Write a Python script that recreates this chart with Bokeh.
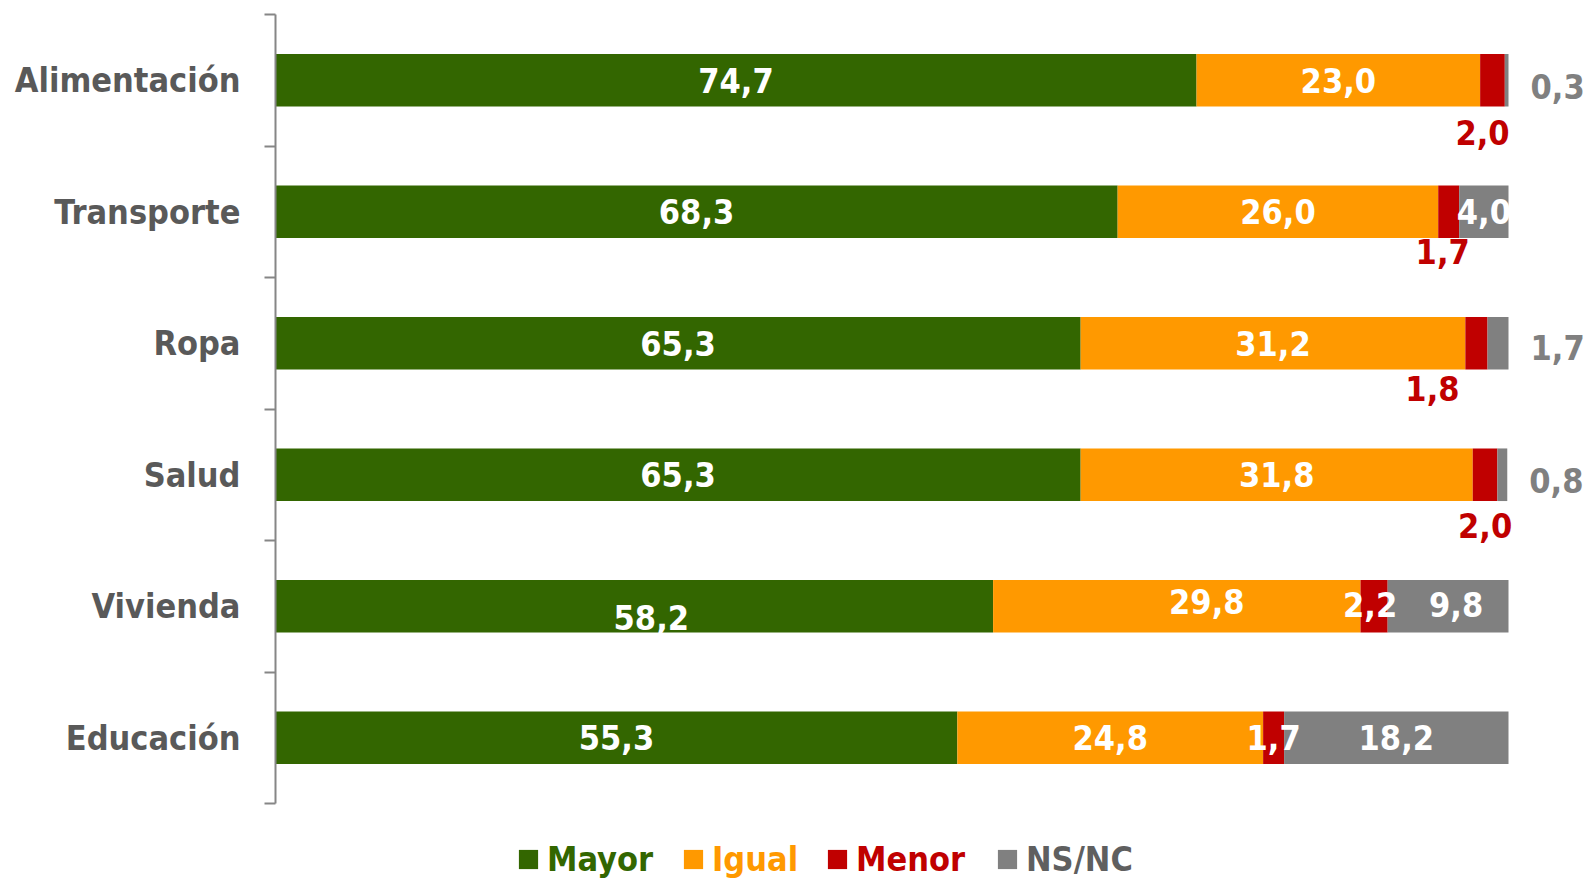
import numpy as np
from bokeh.plotting import figure
from bokeh.models import ColumnDataSource, Range1d, FixedTicker, Legend, LegendItem
from bokeh.core.properties import value
from bokeh.embed import file_html
from bokeh.resources import INLINE

# ---------------- data ----------------
categories = ["Alimentación", "Transporte", "Ropa", "Salud", "Vivienda", "Educación"]
series = ["Mayor", "Igual", "Menor", "NS/NC"]
mayor = [74.7, 68.3, 65.3, 65.3, 58.2, 55.3]
igual = [23.0, 26.0, 31.2, 31.8, 29.8, 24.8]
menor = [2.0, 1.7, 1.8, 2.0, 2.2, 1.7]
nsnc = [0.3, 4.0, 1.7, 0.8, 9.8, 18.2]

# ---------------- style ----------------
colors = ["#336600", "#FF9900", "#C00000", "#808080"]
legend_text_colors = ["#336600", "#FF9900", "#C00000", "#5F5F5F"]
FONT = "DejaVu Sans Condensed"
FS = "34px"

W, H = 1588, 879
LEFT_BORDER = 275
TOP_BORDER = 14
BAND_PX = 131.5
PX_PER_100 = 1233.0

# hand placement tweaks of individual data labels, in pixels: (series, category) -> (dx, dy)
label_nudges = {
    (0, 4): (17, 11), (1, 4): (30, -5), (2, 4): (-4, -2), (3, 4): (8, -2),
    (2, 0): (-10, 3), (2, 1): (-6, -10), (2, 2): (-44, -4), (2, 3): (0, 1),
    (3, 2): (0, -2),
}

n = len(categories)
X_END = 100.0 * (W - LEFT_BORDER) / PX_PER_100
Y_END = n + (H - TOP_BORDER - n * BAND_PX) / BAND_PX

pos = np.arange(n) + 0.5
vals = np.array([mayor, igual, menor, nsnc])
rights = vals.cumsum(axis=0)
lefts = rights - vals
totals = rights[-1]


def fmt(v):
    return f"{v:.1f}".replace(".", ",")


p = figure(width=W, height=H, output_backend="svg", toolbar_location=None,
           x_range=Range1d(0, X_END), y_range=Range1d(Y_END, 0),
           x_axis_location=None,
           min_border_left=LEFT_BORDER, min_border_right=0,
           min_border_top=TOP_BORDER, min_border_bottom=0)
p.outline_line_color = None
p.grid.grid_line_color = None
p.background_fill_color = "white"
p.border_fill_color = "white"

bar_renderers = []
for k in range(len(series)):
    src = ColumnDataSource(dict(y=pos, left=lefts[k], right=rights[k]))
    r = p.hbar(y="y", left="left", right="right", height=0.4, source=src,
               fill_color=colors[k], line_color=None)
    bar_renderers.append(r)

# ---------------- labels ----------------
def add_text(k, mask, xs, ys, color, align="center", x_off=0, y_off=0):
    idx = np.nonzero(mask)[0]
    if len(idx) == 0:
        return
    dx = [x_off + label_nudges.get((k, int(i)), (0, 0))[0] for i in idx]
    dy = [y_off + label_nudges.get((k, int(i)), (0, 0))[1] for i in idx]
    src = ColumnDataSource(dict(x=list(xs[idx]), y=list(ys[idx]),
                                t=[fmt(v) for v in vals[k][idx]], dx=dx, dy=dy))
    p.text(x="x", y="y", text="t", source=src, text_color=color,
           text_font=value(FONT), text_font_size=FS, text_font_style="bold",
           text_align=align, text_baseline="middle", x_offset="dx", y_offset="dy")

centers = (lefts + rights) / 2.0
nsnc_arr = np.array(nsnc)
all_rows = np.ones(n, dtype=bool)

# Mayor and Igual: inside, white
for k in (0, 1):
    add_text(k, all_rows, centers[k], pos, "white")

# Menor: inside when there is a wide NS/NC segment, otherwise below the bar in red
inside_m = nsnc_arr >= 5
add_text(2, inside_m, centers[2], pos, "white")
add_text(2, ~inside_m, centers[2], pos + 0.2, colors[2], y_off=23)

# NS/NC: inside when wide enough, otherwise to the right of the bar in grey
inside_n = nsnc_arr >= 3
add_text(3, inside_n, centers[3], pos, "white")
add_text(3, ~inside_n, totals, pos, colors[3], align="left", x_off=22, y_off=6)

# ---------------- axis ----------------
ax = p.yaxis[0]
ax.bounds = (0, n)
ax.ticker = FixedTicker(ticks=list(pos), minor_ticks=list(range(n + 1)))
ax.major_label_overrides = {float(y): c for y, c in zip(pos, categories)}
ax.major_tick_out = 0
ax.major_tick_in = 0
ax.major_tick_line_color = None
ax.minor_tick_out = 11
ax.minor_tick_in = 0
ax.minor_tick_line_color = "#868686"
ax.minor_tick_line_width = 2
ax.axis_line_color = "#868686"
ax.axis_line_width = 2
ax.major_label_text_font = FONT
ax.major_label_text_font_size = FS
ax.major_label_text_font_style = "bold"
ax.major_label_text_color = "#595959"
ax.major_label_standoff = 24

# ---------------- legend ----------------
legend_x = [241, 406, 550, 720]
for k in range(len(series)):
    leg = Legend(items=[LegendItem(label=series[k], renderers=[bar_renderers[k]])],
                 location=(legend_x[k], 0), orientation="horizontal",
                 border_line_color=None, background_fill_alpha=0,
                 padding=0, margin=0, spacing=0,
                 glyph_width=24, glyph_height=24, label_standoff=7,
                 label_text_font=FONT, label_text_font_size=FS,
                 label_text_font_style="bold",
                 label_text_color=legend_text_colors[k])
    p.add_layout(leg)

open("out.html", "w").write(file_html(p, INLINE))
